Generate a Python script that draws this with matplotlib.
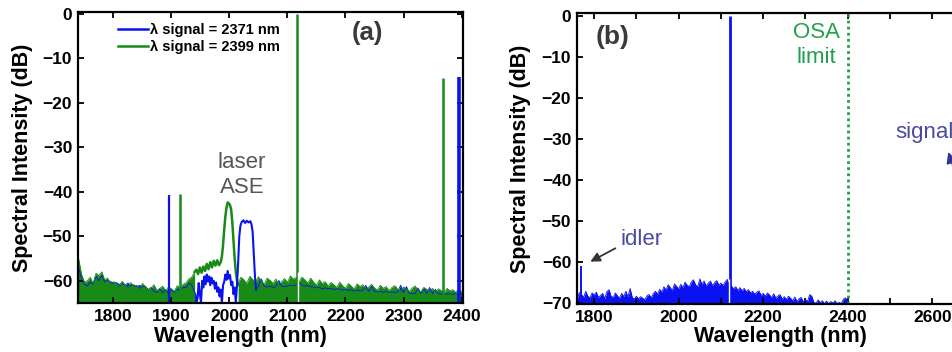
import numpy as np
import matplotlib
matplotlib.use('Agg')
import matplotlib.pyplot as plt

plt.rcParams['font.family'] = ['Liberation Sans', 'DejaVu Sans']

# ─── Panel (a): two OPO runs ──────────────────────────────────────────────────
legend_labels = ['λ signal = 2371 nm', 'λ signal = 2399 nm']

# noise floor (5 nm grid)
a_green_floor_l_wl = np.arange(1740, 1941, 5)
a_green_floor_l = [-55.0, -58.5, -60.3, -60.0, -59.2, -60.6, -58.3, -58.8, -58.0, -59.8,
                   -59.4, -60.8, -60.2, -60.5, -61.4, -60.1, -60.9, -61.5, -60.4, -61.2,
                   -61.0, -61.9, -60.6, -61.3, -62.0, -61.6, -60.9, -62.2, -61.7, -61.2,
                   -62.3, -61.4, -61.8, -62.4, -61.1, -61.6, -60.8, -60.5, -59.6, -59.2,
                   -58.0]
a_green_floor_r_wl = np.arange(2015, 2401, 5)
a_green_floor_r = [-60.5, -59.2, -59.8, -60.6, -59.0, -59.7, -60.3, -59.1, -60.0, -60.8,
                   -59.4, -59.9, -60.6, -59.6, -60.9, -60.2, -59.5, -60.4, -58.9, -59.6,
                   -59.3, -60.1, -59.2, -59.8, -60.5, -59.4, -60.3, -61.0, -59.8, -60.6,
                   -60.2, -61.2, -60.4, -60.9, -61.5, -60.3, -61.1, -61.7, -60.6, -61.2,
                   -61.8, -60.7, -61.3, -60.9, -62.0, -61.4, -60.8, -61.6, -62.1, -61.0,
                   -61.7, -61.3, -62.2, -61.5, -61.1, -61.9, -62.3, -61.4, -61.8, -62.4,
                   -61.6, -61.2, -62.1, -62.5, -61.5, -61.9, -62.4, -61.7, -62.6, -61.8,
                   -62.2, -62.7, -61.7, -62.3, -62.0, -62.6, -61.9, -62.4]
a_blue_floor_l_wl = np.arange(1740, 1946, 5)
a_blue_floor_l = [-57.0, -59.5, -60.8, -61.2, -60.3, -60.8, -59.0, -60.0, -58.8, -60.2,
                  -59.8, -60.2, -60.5, -60.4, -60.8, -60.6, -61.0, -60.5, -61.1, -60.9,
                  -61.3, -61.0, -61.4, -61.2, -62.0, -61.5, -62.4, -62.6, -61.8, -62.7,
                  -62.0, -62.8, -62.0, -62.6, -61.8, -62.3, -61.4, -61.6, -60.5, -61.0,
                  -62.5, -64.0]
a_blue_floor_r_wl = np.arange(2045, 2401, 5)
a_blue_floor_r = [-62.0, -61.3, -59.6, -61.3, -61.4, -61.2, -61.5, -61.3, -59.9, -61.3,
                  -61.3, -61.2, -61.0, -61.1, -61.0, -60.4, -61.0, -61.2, -61.1, -61.3,
                  -61.4, -61.6, -61.5, -61.8, -61.6, -61.8, -61.7, -62.0, -61.8, -61.9,
                  -62.1, -61.9, -62.2, -62.0, -62.3, -62.1, -62.3, -62.2, -61.0, -62.4,
                  -61.3, -62.4, -62.5, -62.3, -62.6, -62.4, -62.6, -62.5, -62.7, -62.5,
                  -61.0, -62.7, -61.3, -62.8, -62.9, -62.9, -61.6, -62.9, -61.8, -62.9,
                  -61.5, -62.9, -61.9, -62.9, -63.0, -62.9, -63.0, -62.9, -63.1, -62.8,
                  -62.9, -63.0]

# filtered laser ASE
a_blue_ase_wl = [1945, 1947, 1949, 1951, 1953, 1955, 1957, 1959, 1961, 1963, 1965, 1967,
                 1969, 1971, 1973, 1975, 1977, 1979, 1981, 1983, 1985, 1987, 1989, 1991,
                 1993, 1995, 1997, 1999, 2001, 2003, 2005, 2007, 2009, 2011, 2013, 2015,
                 2017, 2019, 2021, 2024, 2027, 2030, 2033, 2036, 2038, 2040, 2042, 2044, 2046]
a_blue_ase_db = [-64, -60.5, -63, -65, -60, -61.5, -59, -60.8, -58.6, -60.2, -59, -61,
                 -59.3, -60.6, -60, -61.8, -60.4, -62.5, -61.5, -63.5, -62, -65, -61, -60.2,
                 -58.6, -59.8, -57.8, -59.5, -58.7, -61, -60.2, -63, -61.5, -65, -61, -56,
                 -50, -47.6, -46.8, -46.4, -47, -46.5, -46.9, -46.6, -47.3, -49, -54, -59, -62]
a_green_ase_wl = [1940, 1943, 1946, 1949, 1952, 1955, 1958, 1961, 1964, 1967, 1970, 1973,
                  1976, 1979, 1982, 1985, 1987, 1989, 1991, 1993, 1995, 1997, 1999, 2001,
                  2003, 2005, 2007, 2009, 2011, 2013, 2015]
a_green_ase_db = [-58, -57.5, -58.5, -57, -58.2, -56.8, -57.8, -56.2, -57.4, -55.8, -57, -55.5,
                  -56.6, -55.4, -56.5, -55.8, -54.5, -52, -48.5, -45.5, -43.5, -42.4, -42.6, -43,
                  -44, -47, -51, -55, -58, -60, -61]

# narrow lines: idler, pump, signal
a_blue_lines_wl = [1896, 2395.5]
a_blue_lines_db = [-40.8, -14.2]
a_green_lines_wl = [1915, 2116, 2367.5]
a_green_lines_db = [-40.5, 0.0, -14.4]
a_pump_wl = 2116

# ─── Panel (b): extended range ───────────────────────────────────────────────
b_floor_wl = np.arange(1760, 2401, 5)
b_floor = [-68.8, -67.4, -67.9, -68.6, -67.1, -68.3, -68.7, -67.5, -68.0,
           -67.3, -68.6, -68.1, -67.6, -68.9, -67.2, -66.7, -68.3, -68.6, -67.5,
           -68.2, -68.8, -67.6, -68.4, -67.1, -68.5, -66.4, -68.6, -69.0, -68.3,
           -68.9, -68.4, -68.8, -69.1, -68.2, -67.9, -68.7, -67.6, -67.1, -67.8,
           -66.6, -67.3, -66.0, -66.8, -65.5, -66.2, -66.9, -65.3, -65.9, -66.5,
           -65.4, -66.2, -64.9, -65.6, -66.0, -64.8, -64.3, -65.5, -66.0, -64.1,
           -65.4, -64.6, -65.8, -65.1, -64.6, -65.7, -65.0, -64.5, -65.6, -65.1,
           -65.7, -64.8, -64.2, -66.0, -65.8, -66.5, -66.0, -66.9, -66.2, -67.0,
           -66.4, -67.2, -66.7, -67.5, -67.1, -67.8, -67.3, -67.0, -68.1, -67.6,
           -68.3, -67.5, -68.0, -68.6, -67.7, -68.8, -68.2, -67.9, -69.0, -68.4,
           -69.1, -68.3, -68.8, -69.4, -68.5, -69.6, -68.9, -68.6, -69.7, -69.1,
           -69.6, -67.9, -68.3, -69.8, -70.0, -69.2, -69.9, -69.4, -70.1, -69.5,
           -70.1, -69.6, -70.0, -69.4, -70.1, -69.8, -70.1, -69.0, -68.7, -69.7]
b_lines_wl = [1769, 2121.5]
b_lines_db = [-61.0, 0.0]
b_pump_wl = 2121.5
osa_limit = 2400

BLUE = '#0b12f2'
GREEN = '#178a17'
OSA_GREEN = '#20a04c'
LABEL_BLUE = '#4a4aa4'
A_YMIN, A_YMAX = -65, 0.5
B_YMIN, B_YMAX = -70.2, 0.8


def style_axes(ax):
    for s in ax.spines.values():
        s.set_linewidth(1.6)
    ax.tick_params(direction='in', top=True, right=True, length=4.5, width=1.3,
                   labelsize=12.5, pad=4)
    for lab in ax.get_xticklabels() + ax.get_yticklabels():
        lab.set_fontweight('bold')


def noise_floor(ax, wl, fl, ymin, color):
    # dense OSA noise reads as a solid band down to the axis floor
    ax.fill_between(wl, fl, ymin, color=color, lw=0)
    ax.plot(wl, fl, color=color, lw=0.6)


fig = plt.figure(figsize=(9.52, 3.52), dpi=100)
ax_a = fig.add_axes([77.7 / 952, 1 - 303 / 352, 385 / 952, 291.3 / 352])
ax_b = fig.add_axes([576.7 / 952, 1 - 304 / 352, 408.3 / 952, 291.3 / 352])

# ─── draw (a) ────────────────────────────────────────────────────────────────
ax = ax_a
noise_floor(ax, a_blue_floor_l_wl, a_blue_floor_l, A_YMIN, BLUE)
noise_floor(ax, a_blue_floor_r_wl, a_blue_floor_r, A_YMIN, BLUE)
noise_floor(ax, a_green_floor_l_wl, a_green_floor_l, A_YMIN, GREEN)
noise_floor(ax, a_green_floor_r_wl, a_green_floor_r, A_YMIN, GREEN)
ax.plot(a_green_ase_wl, a_green_ase_db, color=GREEN, lw=1.8)
ax.plot(a_blue_ase_wl, a_blue_ase_db, color=BLUE, lw=1.5)
ax.vlines(a_blue_lines_wl, A_YMIN, a_blue_lines_db, color=BLUE, lw=[1.6, 2.6])
ax.vlines(a_green_lines_wl, A_YMIN, a_green_lines_db, color=GREEN, lw=1.8)
ax.vlines(a_pump_wl + 2.5, A_YMIN, -58, color='white', lw=1.0)

h_blue, = ax.plot([], [], color=BLUE, lw=1.8)
h_green, = ax.plot([], [], color=GREEN, lw=1.8)
ax.legend([h_blue, h_green], legend_labels, loc='upper left',
          bbox_to_anchor=(0.1047, 0.962), frameon=False, borderpad=0, borderaxespad=0,
          handlelength=2.05, handletextpad=0.15, labelspacing=0.2,
          prop={'size': 10.5, 'weight': 'bold'})

ax.text(2021.5, -33.4, 'laser', ha='center', va='center', fontsize=16, color='#555555')
ax.text(2021.5, -39.0, 'ASE', ha='center', va='center', fontsize=16, color='#555555')
ax.text(2237, -4.3, '(a)', ha='center', va='center', fontsize=18.5,
        fontweight='bold', color='#3a3a3a')

ax.set_xlim(1738.5, 2402)
ax.set_ylim(A_YMIN, A_YMAX)
ax.set_xticks(range(1800, 2401, 100))
ax.set_yticks(range(-60, 1, 10))
ax.set_xlabel('Wavelength (nm)', fontsize=15.5, fontweight='bold')
ax.set_ylabel('Spectral Intensity (dB)', fontsize=15.5, fontweight='bold')
ax.xaxis.set_label_coords(0.4216, -0.079)
ax.yaxis.set_label_coords(-0.116, 0.5)
style_axes(ax)

# ─── draw (b) ────────────────────────────────────────────────────────────────
ax = ax_b
noise_floor(ax, b_floor_wl, b_floor, B_YMIN, BLUE)
ax.vlines(b_lines_wl, B_YMIN, b_lines_db, color=BLUE, lw=[1.4, 2.0])
ax.vlines(b_pump_wl - 2.5, B_YMIN, -64, color='white', lw=1.0)
ax.axvline(osa_limit, color=OSA_GREEN, lw=2.0, ls=(0, (1, 1.2)))

ax.text(1844.5, -5.1, '(b)', ha='center', va='center', fontsize=19,
        fontweight='bold', color='#3a3a3a')
ax.text(2327, -4.1, 'OSA', ha='center', va='center', fontsize=16, color=OSA_GREEN)
ax.text(2327, -10.2, 'limit', ha='center', va='center', fontsize=16, color=OSA_GREEN)
ax.text(1862, -54.6, 'idler', ha='left', va='center', fontsize=16, color=LABEL_BLUE)
ax.annotate('', xy=(1785, -60.2), xytext=(1856, -56.3),
            arrowprops=dict(arrowstyle='-|>', color='#333333', lw=1.3, mutation_scale=14))
ax.text(2512, -28.3, 'signal', ha='left', va='center', fontsize=16, color=LABEL_BLUE)
ax.annotate('', xy=(2636, -32.5), xytext=(2700, -52),
            arrowprops=dict(arrowstyle='-|>', color='#333399', lw=1.3, mutation_scale=16))

ax.set_xlim(1758.6, 2725)
ax.set_ylim(B_YMIN, B_YMAX)
ax.set_xticks(range(1800, 2701, 100))
ax.set_xticklabels([str(t) if t % 200 == 0 else '' for t in range(1800, 2701, 100)])
ax.set_yticks(range(-70, 1, 10))
ax.set_xlabel('Wavelength (nm)', fontsize=15.5, fontweight='bold')
ax.set_ylabel('Spectral Intensity (dB)', fontsize=15.5, fontweight='bold')
ax.xaxis.set_label_coords(0.5, -0.0755)
ax.yaxis.set_label_coords(-0.113, 0.5)
style_axes(ax)

fig.savefig('out.png', dpi=100)
